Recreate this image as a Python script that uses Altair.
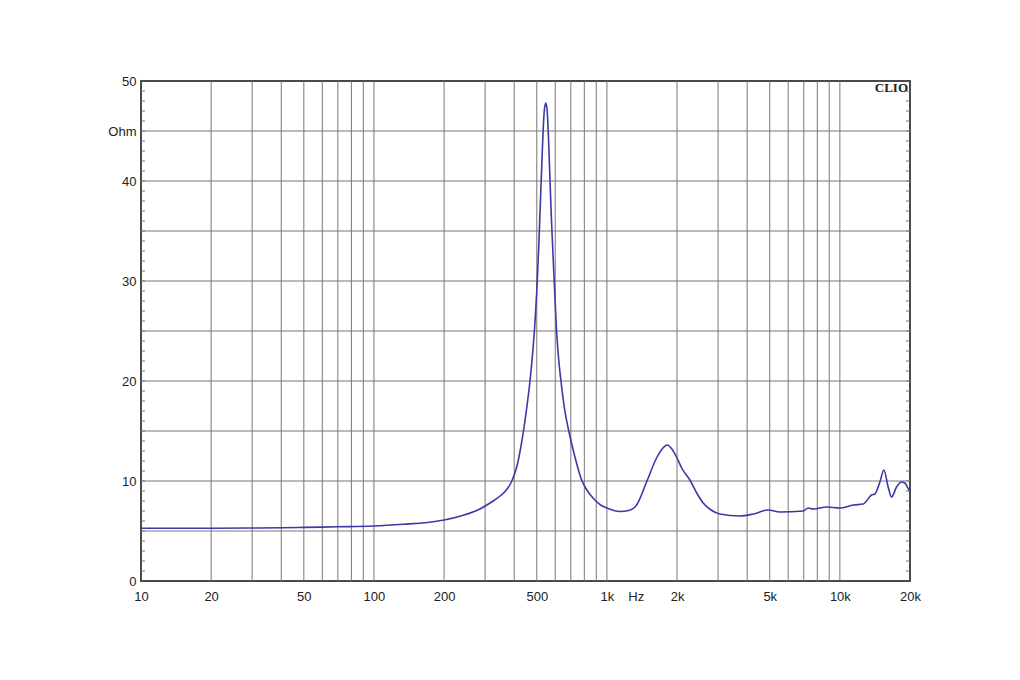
import altair as alt
import pandas as pd

# Impedance curve (Hz, Ohm)
freq = [10, 20, 30, 40, 50, 70, 100, 134, 170, 200, 240, 285, 320, 350, 370, 386,
        400, 412, 430, 452, 467, 480, 490, 500, 510, 518, 526, 533, 540, 547, 554,
        561, 568, 575, 582, 594, 608, 620, 635, 656, 689, 729, 779, 810, 850, 888,
        940, 1000, 1070, 1138, 1240, 1341, 1480, 1634, 1740, 1815, 1900, 1991,
        2093, 2271, 2430, 2590, 2800, 3054, 3723, 4249, 4924, 5524, 6961, 7315,
        7682, 8770, 10000, 11410, 12600, 13680, 14130, 14850, 15450, 16120,
        16670, 17510, 18400, 19010, 19830, 20000]
imp = [5.27, 5.28, 5.30, 5.33, 5.36, 5.42, 5.50, 5.67, 5.85, 6.10, 6.55, 7.20, 7.90,
       8.55, 9.10, 9.75, 10.6, 11.6, 13.8, 17.2, 19.9, 22.8, 25.5, 29.0, 33.5, 37.8,
       42.0, 45.3, 47.3, 47.8, 47.0, 44.5, 41.0, 37.5, 34.5, 30.0, 25.0, 22.3, 20.0,
       17.4, 14.8, 12.4, 10.1, 9.3, 8.6, 8.1, 7.6, 7.3, 7.05, 6.95, 7.05, 7.6, 9.9,
       12.3, 13.3, 13.6, 13.2, 12.4, 11.3, 10.1, 8.8, 7.8, 7.1, 6.7, 6.5, 6.7, 7.1,
       6.9, 7.0, 7.3, 7.2, 7.4, 7.3, 7.6, 7.7, 8.6, 8.7, 9.9, 11.1, 9.4, 8.4, 9.4,
       9.9, 9.8, 9.1, 9.0]

x_tick_values = [10, 20, 50, 100, 200, 500, 1000, 1330, 2000, 5000, 10000, 20000]
x_tick_labels = ["10", "20", "50", "100", "200", "500", "1k", "Hz", "2k", "5k", "10k", "20k"]
y_tick_values = [0, 10, 20, 30, 40, 45, 50]
y_tick_labels = ["0", "10", "20", "30", "40", "Ohm", "50"]

v_grid = [20, 30, 40, 50, 60, 70, 80, 90, 100, 200, 300, 400, 500, 600, 700, 800, 900,
          1000, 2000, 3000, 4000, 5000, 6000, 7000, 8000, 9000, 10000]
h_grid = [5, 10, 15, 20, 25, 30, 35, 40, 45]
minor_ticks = list(range(1, 50))

W, H = 769, 500
LINE = "#3a3aa6"
FONT = "Liberation Sans"

df = pd.DataFrame({"f": freq, "z": imp})
x_scale = alt.Scale(type="log", domain=[10, 20000], nice=False)
y_scale = alt.Scale(domain=[0, 50], nice=False, zero=True)


def lab_expr(vals, labs):
    v = "[" + ",".join(str(x) for x in vals) + "]"
    l = "[" + ",".join("'" + s + "'" for s in labs) + "]"
    return f"{l}[indexof({v}, datum.value)]"


x_axis = alt.Axis(values=x_tick_values, labelExpr=lab_expr(x_tick_values, x_tick_labels),
                  grid=False, ticks=False, domain=False, title=None, labelFontSize=13,
                  labelFont=FONT, labelColor="#222", labelPadding=9, labelFlush=False,
                  labelOverlap=False)
y_axis = alt.Axis(values=y_tick_values, labelExpr=lab_expr(y_tick_values, y_tick_labels),
                  grid=False, ticks=False, domain=False, title=None, labelFontSize=13,
                  labelFont=FONT, labelColor="#222", labelPadding=5, labelFlush=False,
                  labelOverlap=False)

X = alt.X("f:Q", scale=x_scale, axis=x_axis)
Y = alt.Y("z:Q", scale=y_scale, axis=y_axis)

vgrid = alt.Chart(pd.DataFrame({"f": v_grid})).mark_rule(color="#777", strokeWidth=1).encode(
    x=X, y=alt.value(0), y2=alt.value(H))
hgrid = alt.Chart(pd.DataFrame({"z": h_grid})).mark_rule(color="#777", strokeWidth=1).encode(
    y=Y, x=alt.value(0), x2=alt.value(W))
ticks_df = pd.DataFrame({"z": minor_ticks})
lticks = alt.Chart(ticks_df).mark_rule(color="#777", strokeWidth=1).encode(
    y=Y, x=alt.value(0), x2=alt.value(4))
rticks = alt.Chart(ticks_df).mark_rule(color="#777", strokeWidth=1).encode(
    y=Y, x=alt.value(W - 4), x2=alt.value(W))

curve = alt.Chart(df).mark_line(interpolate="monotone", color=LINE, strokeWidth=1.6, clip=True).encode(
    x=X, y=Y)

clio = alt.Chart(pd.DataFrame({"t": ["CLIO"]})).mark_text(
    font="Liberation Serif", fontWeight="bold", fontSize=13, align="right",
    baseline="middle", color="#222").encode(text="t:N", x=alt.value(W - 2), y=alt.value(7))

chart = alt.layer(vgrid, hgrid, lticks, rticks, curve, clio).properties(
    width=W, height=H,
    autosize=alt.AutoSizeParams(type="none"),
    padding={"left": 133, "top": 73, "right": 100, "bottom": 90},
).configure_view(stroke="#4a4a4a", strokeWidth=2)

chart.save("out.html", embed_options={"renderer": "svg", "actions": False})
